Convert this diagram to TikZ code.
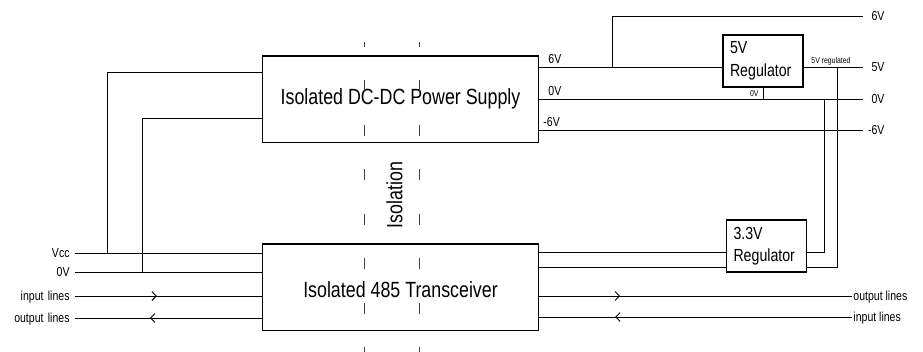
\documentclass[tikz,border=0pt]{standalone}
\usepackage{fontspec}
\setmainfont{Liberation Sans}[FakeStretch=0.81]
\usetikzlibrary{positioning,arrows.meta,decorations.markings}

\begin{document}
\begin{tikzpicture}[x=1pt, y=-1pt, line width=0.9pt,
  box/.style={draw, line width=1.4pt, minimum width=276pt, minimum height=86.5pt, inner sep=0pt, font=\fontsize{22}{26}\selectfont},
  reg/.style={draw, line width=1.4pt, minimum width=80pt, minimum height=52pt, text width=66pt, inner xsep=7pt, align=left, font=\fontsize{17.5}{22.5}\selectfont},
  lbl/.style={inner sep=2pt, text height=9pt, text depth=0pt, font=\fontsize{13}{15}\selectfont},
  lft/.style={lbl, anchor=east, text width=60pt, align=right, inner xsep=5pt},
  rgt/.style={lbl, anchor=west, text width=18pt, align=right, inner xsep=3pt},
  tag/.style={inner sep=2pt, text depth=0pt, font=\fontsize{8.5}{10}\selectfont},
  iso/.style={line width=0.8pt, black!75, dash pattern=on 11pt off 33.5pt},
  arr/.style={postaction={decorate}, decoration={markings, mark=at position #1 with {\arrow{Straight Barb[length=4.5pt, width=9pt]}}}}]
\useasboundingbox (0,0) rectangle (923,351);
\node  (1)[box] at (400.5,99.25) {Isolated DC-DC Power Supply};
\node  (2)[box, text height=21pt] [below=100pt of 1] {Isolated 485 Transceiver};
\node  (3)[reg] at (763,61)   {5V\\Regulator};
\node  (4)[reg] at (766.5,246) {3.3V\\Regulator};
\node  (5)[lft] at (75,253) {Vcc};
\node  (6)[lft] at (75,272) {0V};
\node  (7)[lft] at (75,296) {input lines};
\node  (8)[lft] at (75,318) {output lines};
\node  (9)[rgt] at (863,16)  {6V};
\node (10)[rgt] at (863,67)  {5V};
\node (11)[rgt] at (863,99)  {0V};
\node (12)[rgt] at (863,130) {-6V};
\node (13)[lbl, anchor=west, inner xsep=1pt] at (852,296) {output lines};
\node (14)[lbl, anchor=west, inner xsep=1pt] at (852,317) {input lines};
\node (15)[lbl, anchor=south west] at (546,66)  {6V};
\node (16)[lbl, anchor=south west] at (546,98)  {0V};
\node (17)[lbl, anchor=south west] at (541,129) {-6V};
\node (18)[tag, anchor=south west] at (809,66) {5V regulated};
\node (19)[tag, anchor=south east] at (761,99) {0V};
\node (20)[rotate=90, font=\fontsize{22}{26}\selectfont] at (394.5,195) {Isolation};
\coordinate (a) at (107,72);
\coordinate (b) at (142,118);
\coordinate (c) at (612,16);
\coordinate (d) at (824,252);
\coordinate (e) at (837,267);
% supply and signal lines
\path   (5) edge (5 -| 2.west)
        (6) edge (6 -| 2.west)
        (1.east |- 10) edge (3.west |- 10)
        (3.east |- 10) edge (10)
        (1.east |- 11) edge (11)
        (1.east |- 12) edge (12)
        (3.south) edge (3.south |- 11)
        (2.east |- d) edge (4.west |- d)
        (2.east |- e) edge (4.west |- e);
\draw (1.west |- a) -| (a |- 5);
\draw (1.west |- b) -| (b |- 6);
\draw (c |- 10) |- (9);
\draw (d |- 11) |- (4.east |- d);
\draw (e |- 10) |- (4.east |- e);
\draw[arr=82pt]  (7) -- (7 -| 2.west);
\draw[arr=112pt] (2.west |- 8) -- (8);
\draw[arr=81pt]  (2.east |- 13) -- (13);
\draw[arr=237pt] (14) -- (2.east |- 14);
% isolation barrier
\draw[iso] (364,358) -- (364,42);
\draw[iso] (419,358) -- (419,42);
\end{tikzpicture}
\end{document}
